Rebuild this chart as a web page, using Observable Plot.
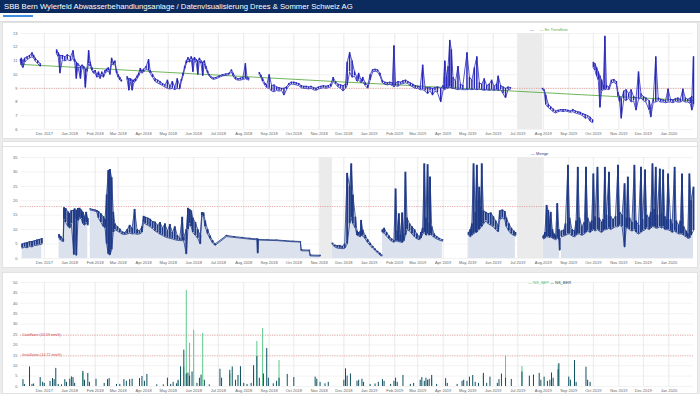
<!DOCTYPE html>
<html><head><meta charset="utf-8">
<script src="https://cdn.jsdelivr.net/npm/d3@7"></script>
<script src="https://cdn.jsdelivr.net/npm/@observablehq/plot@0.6"></script>
<style>
body{margin:0;width:700px;height:394px;overflow:hidden;background:#ececec;font-family:"Liberation Sans",Arial,sans-serif;position:relative}
#hdr{position:absolute;left:0;top:0;width:700px;height:13px;background:#0b2b5e;color:#fff;font-size:7.7px;line-height:13px;padding-left:4px;box-sizing:border-box;white-space:nowrap}
#tabs{position:absolute;left:0;top:13px;width:700px;height:9px;background:#fff;border-bottom:1px solid #dcdcdc;box-sizing:border-box}
#tab1{position:absolute;left:3px;top:2px;width:30px;height:1.5px;background:#3d8ee0}
.card{position:absolute;left:2px;width:696px;background:#fff;border:1px solid #e2e2e2;box-sizing:border-box}
.chart{position:absolute;left:0}
.leg{position:absolute;font-size:4px;white-space:nowrap;line-height:5px}
</style></head><body>
<div id="hdr">SBB Bern Wylerfeld Abwasserbehandlungsanlage / Datenvisualisierung Drees &amp; Sommer Schweiz AG</div>
<div id="tabs"><div id="tab1"></div></div>
<div class="card" style="top:22px;height:117px"></div>
<div class="card" style="top:141px;height:6px"></div>
<div class="card" style="top:146px;height:122px"></div>
<div class="card" style="top:272px;height:122px"></div>
<div id="c1" class="chart" style="top:22px"></div>
<div id="c2" class="chart" style="top:146px"></div>
<div id="c3" class="chart" style="top:272px"></div>
<div class="leg" style="left:530px;top:27px"><span style="color:#2525b8">—</span> <span style="color:#888">&nbsp;</span> &nbsp; <span style="color:#5fae4a">— Ex Trendlinie</span></div>
<div class="leg" style="left:531px;top:151px;color:#1f3a86">— Menge</div>
<div class="leg" style="left:528px;top:280px"><span style="color:#4cc07d">— NS_BEP</span> <span style="color:#0e5062">— NS_BER</span></div>
<script>
// ---------- shared ----------
const xDomain = ["2017-11-02", "2020-01-31"];
const monthTicks = ["2017-12-01","2018-01-01","2018-02-01","2018-03-01","2018-04-01","2018-05-01","2018-06-01","2018-07-01","2018-08-01","2018-09-01","2018-10-01","2018-11-01","2018-12-01","2019-01-01","2019-02-01","2019-03-01","2019-04-01","2019-05-01","2019-06-01","2019-07-01","2019-08-01","2019-09-01","2019-10-01","2019-11-01","2019-12-01","2020-01-01"];

// ---------- panel 1 ----------
const phTicks = [6,7,8,9,10,11,12,13];
const phLimit = [9];
const phGaps = [["2019-07-01","2019-07-31"]];
const phTrend = [["2017-11-02",10.75],["2018-12-05",9.45],["2020-01-31",8.1]];
const phSeries = [
["2017-11-02",10.9,11.1],["2017-11-03",10.7,11.2],["2017-11-05",10.5,11.0],["2017-11-07",10.9,11.2],["2017-11-10",11.1,11.3],["2017-11-13",11.2,11.4],["2017-11-16",11.3,11.6],["2017-11-18",11.2,11.4],["2017-11-20",11.0,11.2],["2017-11-23",10.8,11.0],["2017-11-26",10.6,10.8],
null,
["2017-12-16",11.5,11.8],["2017-12-18",11.3,11.6],["2017-12-20",10.1,11.4],["2017-12-23",11.1,11.4],["2017-12-26",11.0,11.3],["2017-12-29",11.1,11.45],["2018-01-02",11.0,11.3],["2018-01-05",11.2,11.75],["2018-01-07",10.9,11.1],["2018-01-09",9.7,10.9],["2018-01-11",10.6,10.8],["2018-01-14",9.7,10.6],["2018-01-16",10.5,10.7],["2018-01-18",10.4,10.6],["2018-01-20",9.05,10.4],["2018-01-22",10.2,10.4],["2018-01-24",10.8,11.75],["2018-01-26",10.6,10.9],["2018-01-28",10.3,10.5],["2018-01-30",10.1,10.2],["2018-02-01",10.1,10.3],["2018-02-03",9.8,10.0],["2018-02-05",9.9,10.2],["2018-02-07",9.7,9.9],["2018-02-09",10.0,10.2],["2018-02-11",9.8,10.0],["2018-02-13",10.1,10.3],["2018-02-15",10.2,10.4],["2018-02-17",10.3,10.5],["2018-02-19",10.0,10.2],["2018-02-21",10.8,11.2],["2018-02-23",10.7,10.9],["2018-02-25",10.8,11.0],["2018-02-27",10.1,10.3],["2018-03-01",9.8,10.0],["2018-03-03",9.6,9.8],["2018-03-05",9.5,9.6],
null,
["2018-03-12",9.6,9.85],["2018-03-14",8.85,9.7],["2018-03-16",9.5,9.7],["2018-03-18",8.85,9.6],["2018-03-20",9.4,9.6],["2018-03-22",9.5,9.7],["2018-03-24",9.7,9.9],["2018-03-26",9.9,10.1],["2018-03-28",10.2,10.45],["2018-03-30",10.1,10.3],["2018-04-01",10.2,10.4],["2018-04-04",10.4,10.6],["2018-04-07",10.3,11.1],["2018-04-09",10.1,10.3],["2018-04-12",9.8,10.0],["2018-04-15",9.5,9.7],["2018-04-18",9.4,9.6],["2018-04-21",9.3,9.5],["2018-04-24",9.2,9.35],["2018-04-27",9.1,9.25],["2018-04-30",9.0,9.6],["2018-05-03",8.95,9.15],["2018-05-06",9.0,9.5],["2018-05-09",8.9,9.1],["2018-05-12",9.0,9.7],["2018-05-15",8.95,9.2],["2018-05-17",9.5,9.65],["2018-05-19",9.9,10.1],["2018-05-21",10.4,10.6],["2018-05-23",10.8,11.0],["2018-05-25",11.0,11.25],["2018-05-27",10.9,11.1],["2018-05-29",11.1,11.3],["2018-05-31",10.2,11.1],["2018-06-02",11.0,11.25],["2018-06-04",10.9,11.1],["2018-06-06",10.0,11.0],["2018-06-08",11.0,11.2],["2018-06-10",10.8,11.0],["2018-06-12",9.9,10.9],["2018-06-14",10.8,11.0],["2018-06-16",10.4,10.6],["2018-06-18",10.1,10.25],["2018-06-20",9.9,10.0],["2018-06-22",9.75,9.85],["2018-06-25",9.65,9.75],["2018-06-28",9.7,9.8],["2018-07-02",9.8,9.9],["2018-07-06",9.9,10.0],["2018-07-10",9.95,10.05],["2018-07-14",10.0,10.1],["2018-07-17",10.2,10.35],["2018-07-19",9.9,10.1],["2018-07-22",9.65,9.8],["2018-07-25",9.6,9.7],["2018-07-28",9.6,9.75],["2018-07-31",9.65,9.8],["2018-08-03",9.7,10.8],["2018-08-05",9.65,9.8],["2018-08-07",9.6,9.75],
null,
["2018-08-20",10.0,10.15],["2018-08-22",9.8,9.95],["2018-08-24",9.5,9.7],["2018-08-27",9.2,9.35],["2018-08-29",9.05,9.25],["2018-09-01",9.0,10.0],["2018-09-04",8.8,9.2],["2018-09-07",8.75,9.25],["2018-09-10",8.85,9.1],["2018-09-13",8.8,9.05],["2018-09-16",8.85,9.0],["2018-09-19",8.5,9.0],["2018-09-22",8.9,9.1],["2018-09-25",9.2,9.35],["2018-09-28",9.3,9.45],["2018-10-01",9.3,9.45],["2018-10-04",9.25,9.4],["2018-10-07",9.2,9.35],["2018-10-10",9.05,9.2],["2018-10-13",9.0,9.15],["2018-10-16",9.0,9.15],["2018-10-19",8.95,9.1],["2018-10-22",9.0,9.15],["2018-10-25",8.9,9.05],["2018-10-28",8.85,9.0],["2018-10-31",8.95,9.1],["2018-11-03",9.0,9.15],["2018-11-06",9.05,9.2],["2018-11-09",9.0,9.15],["2018-11-12",9.05,9.2],["2018-11-15",9.1,9.3],["2018-11-18",9.5,9.8],["2018-11-21",9.3,9.45],["2018-11-24",9.1,9.3],["2018-11-27",9.0,9.25],["2018-11-30",8.8,9.2],["2018-12-03",9.0,9.3],["2018-12-05",9.2,10.9],["2018-12-08",10.2,11.6],["2018-12-11",9.8,11.0],["2018-12-14",9.9,10.2],["2018-12-17",9.5,9.8],["2018-12-19",9.6,10.1],["2018-12-22",9.4,9.6],["2018-12-24",9.5,9.8],["2018-12-27",9.2,9.4],["2018-12-30",9.0,9.2],["2019-01-02",9.6,10.0],["2019-01-05",10.2,10.35],["2019-01-08",10.25,10.4],["2019-01-11",10.2,10.35],["2019-01-14",9.9,10.1],["2019-01-17",9.4,9.55],["2019-01-20",9.3,9.45],["2019-01-23",9.25,9.4],["2019-01-26",9.3,9.45],["2019-01-29",9.2,9.4],["2019-01-31",9.1,12.1],["2019-02-02",9.2,9.4],["2019-02-05",9.15,9.5],["2019-02-08",9.3,9.45],["2019-02-11",9.35,9.55],["2019-02-14",9.4,9.6],["2019-02-17",9.35,9.5],["2019-02-20",9.2,9.4],["2019-02-23",9.1,9.3],["2019-02-26",9.0,9.2],["2019-03-01",9.0,9.15],["2019-03-04",8.9,9.1],["2019-03-07",8.9,10.7],["2019-03-10",8.8,9.05],["2019-03-13",8.6,9.05],["2019-03-16",8.85,9.05],["2019-03-19",8.5,9.0],["2019-03-22",8.8,9.05],["2019-03-25",8.7,9.1],["2019-03-29",8.0,9.0],["2019-04-01",8.9,9.2],["2019-04-03",8.9,11.0],["2019-04-05",9.0,9.8],["2019-04-07",9.0,10.6],["2019-04-09",9.1,12.5],["2019-04-11",9.0,11.8],["2019-04-13",9.0,9.8],["2019-04-16",8.95,9.5],["2019-04-19",8.9,10.6],["2019-04-22",8.95,9.3],["2019-04-25",8.9,9.2],["2019-04-30",8.9,11.6],["2019-05-03",8.95,9.8],["2019-05-06",8.9,9.6],["2019-05-09",8.95,10.5],["2019-05-12",8.9,11.3],["2019-05-15",8.95,9.4],["2019-05-18",8.9,9.3],["2019-05-21",8.85,9.7],["2019-05-24",8.9,9.2],["2019-05-27",8.85,9.3],["2019-05-30",8.9,9.6],["2019-06-02",8.85,9.15],["2019-06-05",8.9,9.3],["2019-06-07",8.85,9.9],["2019-06-10",8.9,9.2],["2019-06-13",8.6,9.1],["2019-06-16",8.3,9.0],["2019-06-19",8.9,9.1],["2019-06-22",8.95,9.05],
null,
["2019-07-31",8.9,9.0],["2019-08-02",8.8,8.9],["2019-08-04",7.8,8.5],["2019-08-07",7.6,7.85],["2019-08-10",7.45,7.65],["2019-08-13",7.3,7.5],["2019-08-16",7.2,7.35],["2019-08-19",7.3,7.4],["2019-08-22",7.35,7.45],["2019-08-25",7.3,7.45],["2019-08-28",7.35,7.45],["2019-08-31",7.3,7.4],["2019-09-03",7.25,7.35],["2019-09-06",7.3,7.45],["2019-09-09",7.2,7.35],["2019-09-12",7.15,7.3],["2019-09-15",7.1,7.25],["2019-09-18",7.0,7.15],["2019-09-21",6.8,7.1],["2019-09-24",6.9,7.0],["2019-09-27",6.6,6.9],["2019-09-30",6.5,6.7],
null,
["2019-10-01",10.5,10.9],["2019-10-03",10.3,10.8],["2019-10-05",9.9,10.5],["2019-10-07",9.6,10.2],["2019-10-09",7.6,9.9],["2019-10-11",8.8,9.6],["2019-10-13",8.9,9.2],["2019-10-15",8.9,12.8],["2019-10-17",8.95,9.2],["2019-10-20",8.9,9.1],["2019-10-23",9.4,9.6],["2019-10-26",9.45,9.65],["2019-10-29",9.3,9.5],["2019-10-31",8.4,8.7],["2019-11-02",8.0,8.4],["2019-11-04",6.8,8.2],["2019-11-07",8.2,8.8],["2019-11-10",8.1,8.9],["2019-11-13",8.3,8.6],["2019-11-16",8.0,8.9],["2019-11-19",8.1,8.4],["2019-11-22",7.4,8.3],["2019-11-25",8.2,10.2],["2019-11-28",8.3,8.6],["2019-12-01",8.1,8.4],["2019-12-04",8.0,8.3],["2019-12-08",7.4,8.1],["2019-12-10",6.9,7.6],["2019-12-13",8.0,8.2],["2019-12-16",8.0,11.3],["2019-12-19",8.1,8.3],["2019-12-22",8.0,8.2],["2019-12-25",8.0,8.15],["2019-12-28",7.95,8.1],["2019-12-31",8.0,8.95],["2020-01-03",8.0,8.2],["2020-01-06",7.95,8.15],["2020-01-09",8.05,8.25],["2020-01-12",8.0,8.3],["2020-01-15",8.0,8.2],["2020-01-18",8.1,8.95],["2020-01-21",8.0,8.3],["2020-01-24",8.0,8.2],["2020-01-27",7.9,8.3],["2020-01-29",7.4,8.4],["2020-01-31",7.8,11.3]
];

// ---------- panel 2 ----------
const flowTicks = [0,5,10,15,20,25,30,35];
const flowLimit = [18];
const flowGaps = [["2018-11-02","2018-11-17"],["2019-07-01","2019-08-01"]];
const flowSeries = [
["2017-11-04",3.6,5.0],["2017-11-07",3.9,5.3],["2017-11-10",3.7,5.5],["2017-11-13",4.2,5.8],["2017-11-16",4.0,5.9],["2017-11-19",4.5,6.1],["2017-11-22",4.6,6.4],["2017-11-25",4.8,6.6],["2017-11-28",5.0,6.9],
null,
["2017-12-19",7.0,8.3],["2017-12-21",6.3,7.6],["2017-12-24",5.8,6.6],["2017-12-25",13.5,17.6],["2017-12-27",12.5,17.3],["2017-12-30",11.0,16.1],["2018-01-01",10.5,15.5],["2018-01-03",12.0,16.6],["2018-01-06",1.3,16.7],["2018-01-07",13.5,17.2],["2018-01-09",1.0,16.6],["2018-01-11",13.0,17.3],["2018-01-13",14.0,17.4],["2018-01-15",13.8,16.8],["2018-01-17",12.0,16.0],["2018-01-19",11.5,14.5],["2018-01-21",12.5,16.0],["2018-01-23",11.5,13.8],
null,
["2018-01-26",16.8,17.2],["2018-01-29",16.6,17.0],["2018-02-01",16.4,16.8],["2018-02-03",16.0,16.6],["2018-02-05",14.0,16.3],["2018-02-08",12.5,15.5],["2018-02-11",11.0,14.5],["2018-02-13",10.5,13.5],["2018-02-15",5.0,22.0],["2018-02-17",1.5,30.5],["2018-02-19",1.2,30.8],["2018-02-21",3.0,28.0],["2018-02-23",9.0,16.0],["2018-02-25",10.0,12.0],["2018-02-28",9.5,11.0],["2018-03-03",9.0,10.2],["2018-03-06",8.4,9.2],["2018-03-09",8.3,9.0],["2018-03-12",8.5,10.0],["2018-03-15",8.8,11.5],["2018-03-18",8.5,10.5],["2018-03-21",8.6,17.0],["2018-03-24",8.4,10.0],["2018-03-27",8.5,9.5],["2018-03-30",9.0,11.0],["2018-04-01",12.5,14.6],["2018-04-03",12.0,14.3],["2018-04-06",11.5,14.0],["2018-04-09",11.0,13.6],["2018-04-12",10.3,12.8],["2018-04-15",9.5,12.6],["2018-04-18",9.0,11.5],["2018-04-21",8.4,12.5],["2018-04-24",8.0,10.5],["2018-04-27",7.5,12.0],["2018-04-30",7.2,9.5],["2018-05-03",7.0,11.8],["2018-05-06",6.8,9.0],["2018-05-09",6.5,11.0],["2018-05-12",6.3,8.0],["2018-05-15",6.2,7.0],["2018-05-18",6.2,14.3],["2018-05-20",6.0,7.2],["2018-05-23",1.5,10.0],["2018-05-25",10.0,17.4],["2018-05-27",12.0,17.0],["2018-05-29",11.0,16.5],["2018-05-31",9.0,14.0],["2018-06-03",8.0,12.5],["2018-06-06",7.0,10.0],["2018-06-09",5.0,8.0],["2018-06-11",14.8,15.9],["2018-06-13",14.5,15.8],["2018-06-15",11.0,13.0],["2018-06-18",8.5,10.0],["2018-06-21",6.8,7.8],["2018-06-24",5.4,6.2],["2018-06-27",4.5,5.0],["2018-07-11",7.6,8.0],["2018-07-20",7.3,7.6],["2018-07-30",7.0,7.3],["2018-08-08",6.7,7.0],["2018-08-17",6.5,6.8],["2018-08-18",1.8,6.7],["2018-08-19",6.4,6.6],["2018-08-30",6.3,6.5],["2018-09-10",6.2,6.4],["2018-09-20",6.0,6.2],["2018-09-30",5.8,6.0],["2018-10-09",5.7,5.9],["2018-10-10",2.7,3.0],["2018-10-20",2.6,2.9],["2018-10-21",0.9,1.2],["2018-11-02",0.8,1.1],
null,
["2018-11-17",4.8,5.3],["2018-11-20",4.0,4.6],["2018-11-23",3.6,4.4],["2018-11-26",3.5,4.5],["2018-11-29",3.4,4.2],["2018-12-02",3.5,5.0],["2018-12-05",5.0,29.5],["2018-12-08",12.0,25.0],["2018-12-10",14.0,32.8],["2018-12-12",12.0,22.0],["2018-12-15",10.5,14.3],["2018-12-17",8.0,9.5],["2018-12-19",7.8,9.0],["2018-12-21",7.5,9.3],["2018-12-22",8.0,13.2],["2018-12-24",7.8,9.8],["2018-12-27",6.8,8.0],["2018-12-30",5.5,6.5],["2019-01-02",4.5,5.3],["2019-01-05",3.6,4.2],["2019-01-08",2.8,3.3],["2019-01-11",2.0,2.5],["2019-01-14",1.2,1.8],["2019-01-16",0.8,1.2],
null,
["2019-01-17",9.0,9.9],["2019-01-19",8.8,10.5],["2019-01-22",7.8,9.0],["2019-01-25",6.8,7.8],["2019-01-28",6.0,6.8],["2019-01-31",5.6,6.2],["2019-02-02",6.0,24.1],["2019-02-04",6.0,9.5],["2019-02-06",5.8,15.5],["2019-02-08",5.7,8.0],["2019-02-10",5.5,15.8],["2019-02-12",6.0,8.5],["2019-02-14",8.0,29.9],["2019-02-16",10.0,14.0],["2019-02-19",9.5,12.0],["2019-02-22",8.5,11.0],["2019-02-25",7.5,10.0],["2019-02-28",6.8,8.5],["2019-03-03",6.5,7.5],["2019-03-05",7.0,9.0],["2019-03-07",8.5,10.5],["2019-03-09",9.0,32.8],["2019-03-11",8.0,14.0],["2019-03-13",8.5,32.5],["2019-03-15",8.0,12.0],["2019-03-16",8.5,28.2],["2019-03-18",8.0,11.0],["2019-03-21",7.3,8.5],["2019-03-24",6.8,7.6],["2019-03-27",6.4,7.0],["2019-03-31",6.0,6.5],
null,
["2019-05-02",8.0,9.0],["2019-05-04",7.5,10.0],["2019-05-06",8.0,12.0],["2019-05-08",8.5,32.8],["2019-05-10",9.0,16.0],["2019-05-12",9.0,32.3],["2019-05-14",10.0,20.0],["2019-05-15",10.0,24.7],["2019-05-17",11.0,18.0],["2019-05-18",11.0,32.8],["2019-05-20",12.0,16.5],["2019-05-23",13.0,16.0],["2019-05-26",12.0,15.5],["2019-05-29",11.5,15.8],["2019-06-01",11.0,14.5],["2019-06-04",10.0,13.0],["2019-06-07",9.2,11.5],["2019-06-09",13.5,16.5],["2019-06-12",14.0,16.8],["2019-06-15",13.5,16.3],["2019-06-17",11.0,14.0],["2019-06-20",9.5,12.0],["2019-06-23",8.5,10.5],["2019-06-26",8.0,9.5],["2019-06-28",7.8,9.0],
null,
["2019-08-01",6.8,7.8],["2019-08-03",7.0,9.0],["2019-08-05",7.5,18.4],["2019-08-07",7.5,16.6],["2019-08-09",7.2,12.0],["2019-08-10",7.5,16.0],["2019-08-12",7.0,10.0],["2019-08-14",6.8,8.5],["2019-08-16",6.5,8.0],["2019-08-18",7.0,19.0],["2019-08-20",6.5,10.0],["2019-08-21",2.8,7.0],
null,
["2019-08-23",7.5,9.5],["2019-08-26",7.8,9.8],["2019-08-28",8.0,12.0],["2019-08-31",8.5,32.3],["2019-09-02",8.5,14.0],["2019-09-05",7.8,10.0],["2019-09-08",7.5,9.5],["2019-09-10",8.0,13.0],["2019-09-12",8.5,31.6],["2019-09-14",8.5,14.0],["2019-09-17",8.0,11.0],["2019-09-20",8.5,12.5],["2019-09-22",9.0,31.6],["2019-09-24",9.5,14.0],["2019-09-27",9.0,12.0],["2019-09-29",9.5,13.0],["2019-10-01",10.0,29.3],["2019-10-03",9.5,14.5],["2019-10-06",10.0,31.6],["2019-10-08",9.5,14.0],["2019-10-11",9.0,12.5],["2019-10-13",9.5,13.5],["2019-10-15",10.0,31.6],["2019-10-17",10.0,15.0],["2019-10-20",10.5,29.9],["2019-10-22",10.0,14.5],["2019-10-25",10.5,13.5],["2019-10-28",11.0,14.5],["2019-10-31",11.0,32.3],["2019-11-02",11.5,16.0],["2019-11-05",11.0,15.0],["2019-11-08",3.9,25.9],["2019-11-10",10.5,14.0],["2019-11-12",10.5,28.2],["2019-11-14",10.0,14.0],["2019-11-17",9.5,12.5],["2019-11-20",10.0,32.3],["2019-11-22",9.0,13.0],["2019-11-25",8.5,11.5],["2019-11-28",9.0,31.6],["2019-11-30",9.5,13.5],["2019-12-03",10.0,30.7],["2019-12-05",10.5,15.0],["2019-12-08",10.0,14.0],["2019-12-10",10.5,16.0],["2019-12-12",11.0,32.8],["2019-12-14",11.0,17.0],["2019-12-16",10.5,31.6],["2019-12-18",10.5,15.0],["2019-12-21",11.0,31.0],["2019-12-23",10.5,15.5],["2019-12-25",11.0,30.7],["2019-12-27",10.0,14.5],["2019-12-29",10.0,13.5],["2019-12-31",10.0,29.3],["2020-01-03",9.5,13.5],["2020-01-05",9.0,12.0],["2020-01-08",9.5,31.6],["2020-01-10",9.0,13.0],["2020-01-13",8.5,11.5],["2020-01-15",8.5,13.0],["2020-01-17",8.5,29.3],["2020-01-19",8.0,11.0],["2020-01-22",7.5,9.5],["2020-01-24",7.0,8.5],["2020-01-26",7.0,29.3],["2020-01-28",8.0,20.0],["2020-01-31",9.7,24.7]
];

// ---------- panel 3 ----------
const rainTicks = [0,5,10,15,20,25,30,35,40,45,50];
const rainLimitValues = [24.6, 14.7];
const rainLimitLabels = ["Cutoffwert (24.59 mm/h)", "Installation (14.72 mm/h)"];
const rainBEP = [
["2017-11-13",7],["2018-01-17",6.5],["2018-05-13",2.5],["2018-05-20",9],["2018-05-23",46.2],["2018-05-27",20.7],["2018-06-01",27],["2018-06-12",25.5],["2018-07-15",6],["2018-07-28",7],["2018-08-13",8],["2018-08-17",21.6],["2018-08-24",27.9],["2018-09-13",12.5],["2019-03-18",4],["2019-05-20",5],["2019-06-16",14.6],["2019-07-06",9.6],["2019-08-19",10.4],["2019-09-08",6]
];
const rainBER = [
["2017-11-05",3.3],["2017-11-07",1],["2017-11-13",9.4],["2017-11-16",1],["2017-11-18",1.2],["2017-11-26",4.3],["2017-11-29",2],["2017-12-01",1.5],["2017-12-08",2.5],["2017-12-11",3.8],["2017-12-13",3.3],["2017-12-15",8.7],["2017-12-18",1],["2017-12-22",0.8],["2017-12-26",3.3],["2017-12-28",2],["2018-01-01",3.5],["2018-01-03",4.6],["2018-01-05",4.3],["2018-01-07",1.5],["2018-01-17",7.3],["2018-01-19",3],["2018-01-23",6.3],["2018-01-25",2],["2018-02-02",3.5],["2018-02-12",1.5],["2018-02-16",3.3],["2018-02-18",3.8],["2018-02-27",1],["2018-03-03",1],["2018-03-08",3.3],["2018-03-11",2.5],["2018-03-15",3.3],["2018-03-18",3.5],["2018-03-27",3.8],["2018-03-30",4.8],["2018-04-02",2.5],["2018-04-05",5.8],["2018-04-17",0.8],["2018-04-25",0.8],["2018-04-30",4],["2018-05-04",1],["2018-05-07",2],["2018-05-11",1.3],["2018-05-13",3],["2018-05-16",9.5],["2018-05-20",17.5],["2018-05-23",6],["2018-05-25",6.5],["2018-05-27",5],["2018-05-30",7],["2018-06-05",1.5],["2018-06-08",4],["2018-06-10",5.5],["2018-06-14",3],["2018-06-20",0.8],["2018-07-03",8.3],["2018-07-05",4],["2018-07-15",7.8],["2018-07-18",9.4],["2018-07-22",3],["2018-07-25",5.3],["2018-07-28",9.5],["2018-08-01",1.5],["2018-08-05",1],["2018-08-10",1.5],["2018-08-13",10],["2018-08-17",14.4],["2018-08-20",4],["2018-08-25",6],["2018-08-29",18.3],["2018-08-31",4],["2018-09-06",1.3],["2018-09-10",2.5],["2018-09-13",4],["2018-09-23",5.8],["2018-10-01",4.3],["2018-10-27",4.5],["2018-10-29",3.5],["2018-11-02",2],["2018-11-08",1.3],["2018-11-12",2],["2018-12-01",3],["2018-12-03",8.5],["2018-12-05",5],["2018-12-09",6],["2018-12-17",2.5],["2018-12-19",3],["2018-12-23",3.5],["2018-12-25",2],["2019-01-02",1],["2019-01-08",1.2],["2019-01-12",2],["2019-01-17",3.3],["2019-01-19",2.5],["2019-01-27",1],["2019-01-31",2.5],["2019-02-02",4],["2019-02-04",2],["2019-02-11",5.3],["2019-02-20",1],["2019-02-24",1.5],["2019-03-04",3],["2019-03-06",4.3],["2019-03-09",2.5],["2019-03-11",4],["2019-03-13",3],["2019-03-15",3.5],["2019-03-18",5.3],["2019-03-24",1],["2019-04-04",3.8],["2019-04-06",1.5],["2019-04-18",1],["2019-04-24",2.5],["2019-04-26",3],["2019-04-30",2.5],["2019-05-03",4.5],["2019-05-07",5.3],["2019-05-10",2],["2019-05-14",1.5],["2019-05-20",6.3],["2019-05-24",1.5],["2019-05-28",4.5],["2019-06-06",1.5],["2019-06-08",3.3],["2019-06-11",6],["2019-06-16",4],["2019-06-23",3.4],["2019-07-06",7],["2019-07-15",5],["2019-07-20",5.5],["2019-07-27",6.3],["2019-07-29",3],["2019-08-02",4.5],["2019-08-06",2.5],["2019-08-09",3],["2019-08-11",6.5],["2019-08-13",4],["2019-08-19",8],["2019-08-20",11],["2019-09-01",4.5],["2019-09-03",3],["2019-09-08",12.5],["2019-09-10",2],["2019-09-22",9.3],["2019-09-24",3],["2019-09-27",2]
];

// ---------- build ----------
const toDate = s => new Date(s + "T00:00:00Z");
const band = arr => arr.map(d => d ? {date: toDate(d[0]), lo: d[1], hi: d[2]} : {date: null, lo: NaN, hi: NaN});
const pts = arr => arr.map(d => ({date: toDate(d[0]), v: d[1]}));
const spans = arr => arr.map(d => ({a: toDate(d[0]), b: toDate(d[1])}));
const months = monthTicks.map(toDate);
const fmt = d3.utcFormat("%b %Y");

function base(height, mt, mb, yDomain, yTicks, marks) {
  return Plot.plot({
    width: 700, height, marginLeft: 20, marginRight: 7, marginTop: mt, marginBottom: mb,
    style: {fontFamily: "Liberation Sans, Arial, sans-serif", fontSize: "4px", background: "transparent", color: "#666"},
    x: {type: "utc", domain: xDomain.map(toDate)},
    y: {domain: yDomain},
    marks: [
      Plot.gridX(months, {stroke: "#dcdcdc", strokeOpacity: 1, strokeWidth: 0.6}),
      Plot.gridY(yTicks, {stroke: "#e6e6e6", strokeOpacity: 1, strokeWidth: 0.5}),
      ...marks,
      Plot.axisX(months, {tickFormat: fmt, tickSize: 0, tickPadding: 3, fontSize: 4, fill: "#666", label: null}),
      Plot.axisY(yTicks, {tickSize: 0, tickPadding: 3, fontSize: 4, fill: "#666", label: null})
    ]
  });
}

function noisyBand(rows, color, rw, lw) {
  return [
    Plot.ruleX(rows, {x: "date", y1: "lo", y2: "hi", stroke: color, strokeWidth: rw}),
    Plot.line(rows, {x: "date", y: "lo", stroke: color, strokeWidth: lw}),
    Plot.line(rows, {x: "date", y: "hi", stroke: color, strokeWidth: lw})
  ];
}

const ph = band(phSeries);
const phColor = "#2828b8";
document.getElementById("c1").append(base(117, 11, 10, [6, 13], phTicks, [
  Plot.rect(spans(phGaps), {x1: "a", x2: "b", fill: "#ebebeb"}),
  Plot.ruleY(phLimit, {stroke: "#e07070", strokeWidth: 0.6, strokeDasharray: "1.2,1.2"}),
  Plot.line(pts(phTrend), {x: "date", y: "v", stroke: "#5fae4a", strokeWidth: 0.9}),
  ...noisyBand(ph, phColor, 1.5, 0.8)
]));

const fl = band(flowSeries);
const flColor = "#1f3a86";
document.getElementById("c2").append(base(122, 11, 10, [0, 35], flowTicks, [
  Plot.rect(spans(flowGaps), {x1: "a", x2: "b", fill: "#ebebeb"}),
  Plot.area(fl, {x1: "date", y1: 0, y2: "hi", fill: "#dce1ee"}),
  Plot.ruleY(flowLimit, {stroke: "#e07070", strokeWidth: 0.6, strokeDasharray: "1.2,1.2"}),
  ...noisyBand(fl, flColor, 1.9, 0.8)
]));

const limits = rainLimitValues.map((v, i) => ({v, label: rainLimitLabels[i]}));
document.getElementById("c3").append(base(122, 10, 8, [0, 50], rainTicks, [
  Plot.ruleY(limits, {y: "v", stroke: "#e89090", strokeWidth: 0.7, strokeDasharray: "1.2,1.2"}),
  Plot.text(limits, {x: () => toDate("2017-11-04"), y: "v", text: "label", textAnchor: "start", lineAnchor: "bottom", dy: 0.5, fontSize: 3.6, fill: "#d05050"}),
  Plot.ruleX(pts(rainBEP), {x: "date", y1: 0, y2: "v", stroke: "#5cc98a", strokeWidth: 1}),
  Plot.ruleX(pts(rainBER), {x: "date", y1: 0, y2: "v", stroke: "#0e5062", strokeWidth: 1})
]));
</script>
</body></html>
